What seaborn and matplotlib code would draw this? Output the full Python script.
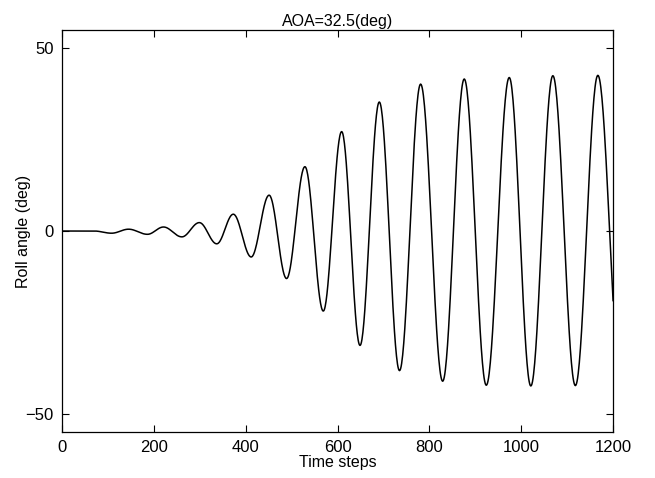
import numpy as np
import pandas as pd
import matplotlib
matplotlib.use("Agg")
import matplotlib.pyplot as plt
import seaborn as sns

# turning points (time step, roll angle in deg)
peak_steps = [0, 70, 108, 145, 186, 221, 261, 299, 337, 373, 412, 451, 489, 529,
              569, 609, 649, 691, 735, 781, 829, 876, 924, 974, 1021, 1069,
              1118, 1167, 1218]
peak_roll = [0.0, 0.0, -0.6, 0.5, -0.9, 1.1, -1.6, 2.3, -3.5, 4.6, -7.1, 9.8,
             -13.0, 17.6, -21.9, 27.2, -31.3, 35.3, -38.2, 40.2, -41.1, 41.6,
             -42.2, 42.0, -42.4, 42.5, -42.3, 42.6, -42.3]

x_ticks = [0, 200, 400, 600, 800, 1000, 1200]
y_ticks = [-50, 0, 50]


def smooth_swing(steps, values, n=40):
    # half-cosine between each pair of turning points, like the simulated response
    xs, ys = [], []
    for i in range(len(steps) - 1):
        f = np.linspace(0, 1, n, endpoint=False)
        w = (1 - np.cos(np.pi * f)) / 2
        xs.append(steps[i] + (steps[i + 1] - steps[i]) * f)
        ys.append(values[i] + (values[i + 1] - values[i]) * w)
    xs.append([steps[-1]])
    ys.append([values[-1]])
    return np.concatenate(xs), np.concatenate(ys)


t, roll = smooth_swing(peak_steps, peak_roll)
df = pd.DataFrame({"step": t, "roll": roll})

sns.set_style("ticks")
plt.rcParams["font.family"] = ["Liberation Sans", "DejaVu Sans"]
plt.rcParams["text.color"] = "black"
plt.rcParams["axes.labelcolor"] = "black"

fig = plt.figure(figsize=(6.55, 4.78), dpi=100)
ax = fig.add_axes([0.0947, 0.0962, 0.8412, 0.841])

sns.lineplot(data=df, x="step", y="roll", color="black", linewidth=1.1,
             ax=ax, sort=False, estimator=None)

ax.set_xlim(0, 1200)
ax.set_ylim(-55, 55)
ax.set_xticks(x_ticks)
ax.set_yticks(y_ticks)
ax.tick_params(direction="in", length=5, width=0.8, top=True, right=True,
               labelsize=12, colors="black", pad=6)
for s in ax.spines.values():
    s.set_visible(True)
    s.set_linewidth(0.9)
    s.set_color("black")

ax.set_title("AOA=32.5(deg)", fontsize=11.5, pad=3, color="black")
ax.set_xlabel("Time steps", fontsize=11.5, labelpad=0, color="black")
ax.set_ylabel("Roll angle (deg)", fontsize=11.5, labelpad=-4, color="black")

fig.savefig("out.png", dpi=100, facecolor="white")
